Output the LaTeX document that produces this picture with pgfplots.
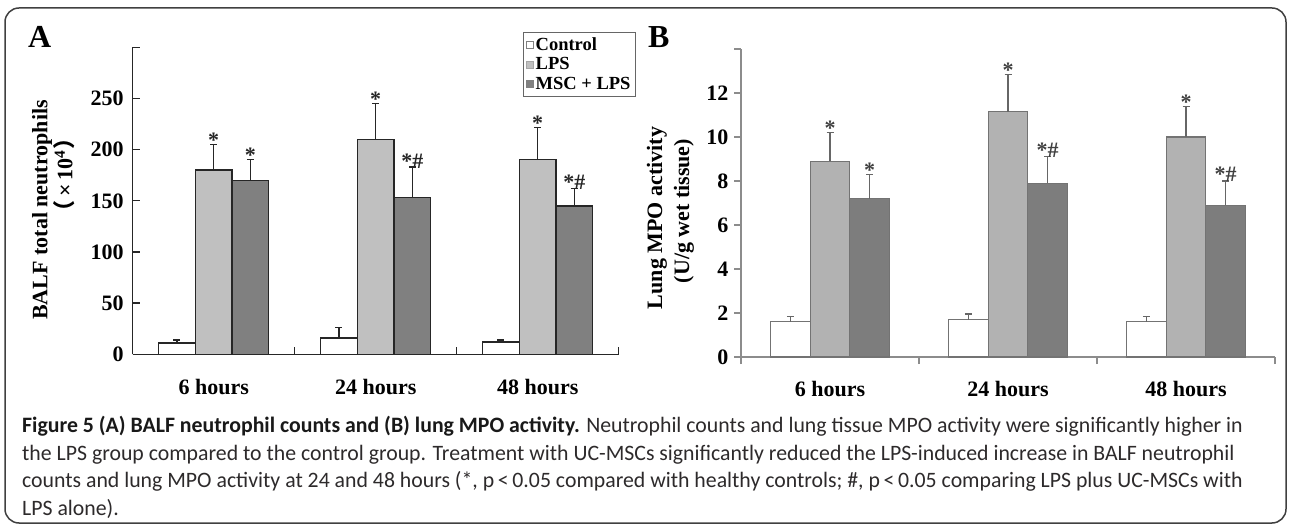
\documentclass[border=0pt]{standalone}
\usepackage{pgfplots}
\pgfplotsset{compat=1.18}
\usepackage{fontspec}
\setmainfont{Liberation Serif}
\newfontfamily\capfont[FakeStretch=0.99]{Carlito}
\newfontfamily\cjk{Noto Sans CJK SC}
\definecolor{lpsA}{RGB}{192,192,192}
\definecolor{mscA}{RGB}{128,128,128}
\definecolor{lpsB}{RGB}{178,178,178}
\definecolor{mscB}{RGB}{125,125,125}
\definecolor{capcol}{RGB}{45,42,43}
\newcommand{\tf}{\fontsize{22}{24}\selectfont\bfseries}
\newcommand{\starf}{\fontsize{22}{24}\selectfont\bfseries}

\begin{document}
\begin{tikzpicture}[x=1pt,y=1pt]
\path[use as bounding box] (0,0) rectangle (1290,-526);
\draw[line width=1.5pt, black!75, rounded corners=14pt] (5,-8) rectangle (1286,-523);

% Panel A
\begin{axis}[
  at={(132.7pt,-354.3pt)}, anchor=south west,
  scale only axis, width=486pt, height=307pt,
  xmin=0, xmax=3, ymin=0, ymax=300,
  clip=false,
  axis x line*=bottom, axis y line*=left,
  axis line style={black!85, line width=1.3pt, -},
  tick style={black!85, line width=1.3pt},
  tick align=inside,
  major tick length=7pt,
  xtick={1,2,3}, xticklabels={},
  extra x ticks={0.5,1.5,2.5},
  extra x tick labels={6 hours,24 hours,48 hours},
  extra x tick style={major tick length=0pt},
  xticklabel style={font=\tf, inner sep=0pt, yshift=-25pt},
  ytick={0,50,...,300},
  yticklabels={0,50,100,150,200,250,{}},
  yticklabel style={font=\tf, inner sep=0pt, xshift=-9pt},
  legend style={at={(1.0356,1.0508)}, anchor=north east, draw=black!60, line width=1pt,
    fill=white, font=\fontsize{18.5}{19}\selectfont\bfseries, inner xsep=3pt, inner ysep=3pt,
    row sep=2pt, cells={anchor=west}},
  legend cell align=left,
]
\addlegendimage{legend image code/.code={\draw[fill=white, draw=black!50, line width=0.6pt] (0pt,-3.5pt) rectangle (7pt,3.5pt);}}
\addlegendentry{Control}
\addlegendimage{legend image code/.code={\draw[fill=lpsA, draw=black!35, line width=0.6pt] (0pt,-3.5pt) rectangle (7pt,3.5pt);}}
\addlegendentry{LPS}
\addlegendimage{legend image code/.code={\draw[fill=mscA, draw=black!50, line width=0.6pt] (0pt,-3.5pt) rectangle (7pt,3.5pt);}}
\addlegendentry{MSC + LPS}

\addplot[ybar, bar shift=0pt, bar width=0.225, fill=white, draw=black!85, line width=1.2pt,
  error bars/.cd, y dir=plus, y explicit,
  error bar style={black!85, line width=1.2pt},
  error mark options={rotate=90, black!85, mark size=3.5pt, line width=1.2pt}]
  coordinates {(0.273,11) +- (0,3) (1.273,16) +- (0,10) (2.273,12) +- (0,2)};
\addplot[ybar, bar shift=0pt, bar width=0.225, fill=lpsA, draw=black!85, line width=1.2pt,
  error bars/.cd, y dir=plus, y explicit,
  error bar style={black!85, line width=1.2pt},
  error mark options={rotate=90, black!85, mark size=3.5pt, line width=1.2pt}]
  coordinates {(0.5,180) +- (0,25) (1.5,210) +- (0,35) (2.5,190) +- (0,32)};
\addplot[ybar, bar shift=0pt, bar width=0.225, fill=mscA, draw=black!85, line width=1.2pt,
  error bars/.cd, y dir=plus, y explicit,
  error bar style={black!85, line width=1.2pt},
  error mark options={rotate=90, black!85, mark size=3.5pt, line width=1.2pt}]
  coordinates {(0.727,170) +- (0,20) (1.727,153) +- (0,30) (2.727,145) +- (0,17)};

\begin{scope}[every node/.style={font=\starf, inner sep=0pt, anchor=base, text=black!85}]
\node at (axis cs:0.5,205) [yshift=-3pt] {*};
\node at (axis cs:0.727,190) [yshift=-3pt] {*};
\node at (axis cs:1.5,245) [yshift=-3pt] {*};
\node at (axis cs:1.727,183) [yshift=-1pt] {*\#};
\node at (axis cs:2.5,222) [yshift=-3pt] {*};
\node at (axis cs:2.727,162) [yshift=-1pt] {*\#};
\end{scope}
\end{axis}

% Panel B
\begin{axis}[
  at={(741pt,-357pt)}, anchor=south west,
  scale only axis, width=534pt, height=308pt,
  xmin=0, xmax=3, ymin=0, ymax=14,
  clip=false,
  axis x line*=bottom, axis y line*=left,
  axis line style={black!45, line width=1.3pt, -},
  tick style={black!45, line width=1.3pt},
  tick align=outside,
  major tick length=7pt,
  xtick={0,1,2,3}, xticklabels={},
  extra x ticks={0.5,1.5,2.5},
  extra x tick labels={6 hours,24 hours,48 hours},
  extra x tick style={major tick length=0pt},
  xticklabel style={font=\tf, inner sep=0pt, yshift=-24pt},
  ytick={0,2,...,14},
  yticklabels={0,2,4,6,8,10,12,{}},
  yticklabel style={font=\tf, inner sep=0pt, xshift=-5.5pt},
]
\addplot[ybar, bar shift=0pt, bar width=0.222, fill=white, draw=black!55, line width=1.2pt,
  error bars/.cd, y dir=plus, y explicit,
  error bar style={black!60, line width=1.2pt},
  error mark options={rotate=90, black!60, mark size=3.5pt, line width=1.2pt}]
  coordinates {(0.278,1.6) +- (0,0.25) (1.278,1.7) +- (0,0.25) (2.278,1.6) +- (0,0.25)};
\addplot[ybar, bar shift=0pt, bar width=0.222, fill=lpsB, draw=black!55, line width=1.2pt,
  error bars/.cd, y dir=plus, y explicit,
  error bar style={black!60, line width=1.2pt},
  error mark options={rotate=90, black!60, mark size=3.5pt, line width=1.2pt}]
  coordinates {(0.5,8.9) +- (0,1.3) (1.5,11.15) +- (0,1.7) (2.5,10.0) +- (0,1.4)};
\addplot[ybar, bar shift=0pt, bar width=0.222, fill=mscB, draw=black!55, line width=1.2pt,
  error bars/.cd, y dir=plus, y explicit,
  error bar style={black!60, line width=1.2pt},
  error mark options={rotate=90, black!60, mark size=3.5pt, line width=1.2pt}]
  coordinates {(0.722,7.2) +- (0,1.1) (1.722,7.9) +- (0,1.2) (2.722,6.9) +- (0,1.1)};

\begin{scope}[every node/.style={font=\starf, inner sep=0pt, anchor=base, text=black!75}]
\node at (axis cs:0.5,10.2) [yshift=-3pt] {*};
\node at (axis cs:0.722,8.3) [yshift=-3pt] {*};
\node at (axis cs:1.5,12.85) [yshift=-3pt] {*};
\node at (axis cs:1.722,9.1) [yshift=-1pt] {*\#};
\node at (axis cs:2.5,11.4) [yshift=-3pt] {*};
\node at (axis cs:2.722,8.0) [yshift=-1pt] {*\#};
\end{scope}
\end{axis}

% Panel letters and axis titles
\node[anchor=base west, inner sep=0pt, font=\fontsize{32}{32}\selectfont\bfseries] at (28,-48) {A};
\node[anchor=base west, inner sep=0pt, font=\fontsize{32}{32}\selectfont\bfseries] at (648,-48) {B};
\node[rotate=90, inner sep=0pt, font=\tf] at (42,-210) {BALF total neutrophils};
\node[rotate=90, inner sep=0pt, font=\tf] at (64,-175) {{\cjk （}\,×\,10\textsuperscript{4}{\cjk ）}};
\node[rotate=90, inner sep=0pt, font=\tf] at (657,-218) {Lung MPO activity};
\node[rotate=90, inner sep=0pt, font=\tf] at (684,-211) {(U/g wet tissue)};

% Caption
\begin{scope}[every node/.style={anchor=base west, inner sep=0pt, text=capcol, font=\capfont\fontsize{22}{26}\selectfont}]
\node at (22,-432) {\textbf{\color{black!90}Figure 5 (A) BALF neutrophil counts and (B) lung MPO activity.} Neutrophil counts and lung tissue MPO activity were significantly higher in};
\node at (22,-460) {the LPS group compared to the control group. Treatment with UC-MSCs significantly reduced the LPS-induced increase in BALF neutrophil};
\node at (22,-487.5) {counts and lung MPO activity at 24 and 48 hours (*, p\,<\,0.05 compared with healthy controls; \#, p\,<\,0.05 comparing LPS plus UC-MSCs with};
\node at (22,-515) {LPS alone).};
\end{scope}
\end{tikzpicture}
\end{document}
